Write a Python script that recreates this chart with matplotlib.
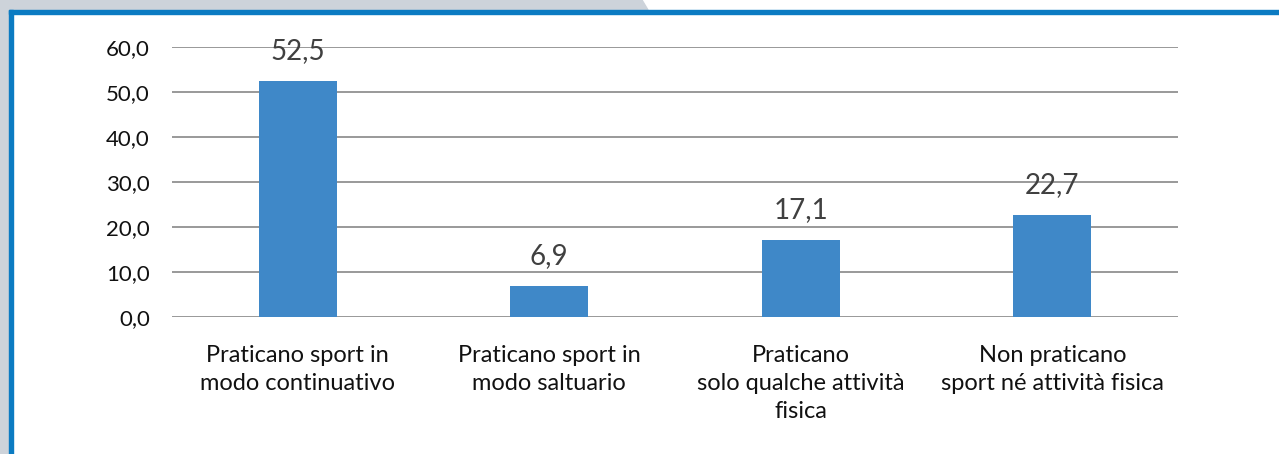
import matplotlib.pyplot as plt
from matplotlib.patches import Polygon, Rectangle

categories = ["Praticano sport in\nmodo continuativo",
              "Praticano sport in\nmodo saltuario",
              "Praticano\nsolo qualche attività\nfisica",
              "Non praticano\nsport né attività fisica"]
values = [52.5, 6.9, 17.1, 22.7]
yticks = [0, 10, 20, 30, 40, 50, 60]

plt.rcParams['font.family'] = ['Lato', 'DejaVu Sans']

fig = plt.figure(figsize=(12.79, 4.54), dpi=100)
W, H = 1279, 454

# frame decoration: grey tab + blue border
grey = '#cdd3da'
fig.patches.append(Rectangle((0, 0), 9 / W, 1, transform=fig.transFigure, color=grey, zorder=0))
fig.patches.append(Polygon([(0, 1), (642 / W, 1), (648 / W, 1 - 10 / H), (0, 1 - 10 / H)],
                           closed=True, transform=fig.transFigure, color=grey, zorder=0))
blue = '#0b7bc2'
fig.patches.append(Rectangle((9 / W, 1 - 14 / H), 1, 4 / H, transform=fig.transFigure, color=blue, zorder=1))
fig.patches.append(Rectangle((9 / W, 0), 4 / W, 1 - 10 / H, transform=fig.transFigure, color=blue, zorder=1))

ax = fig.add_axes([172 / W, 137 / H, 1006 / W, 270 / H])
x = range(len(categories))
bars = ax.bar(x, values, width=0.31, color='#3f88c8', zorder=3)
ax.set_xlim(-0.5, len(categories) - 0.5)
ax.set_ylim(0, 60)
ax.set_yticks(yticks)
ax.set_yticklabels([f"{v:.1f}".replace('.', ',') for v in yticks], fontsize=16, color='#111111')
ax.set_xticks(list(x))
ax.set_xticklabels(categories, fontsize=17, color='#111111', linespacing=1.4)
ax.tick_params(axis='y', length=0, pad=16)
ax.tick_params(axis='x', length=0, pad=20.5)
ax.grid(axis='y', color='#999999', linewidth=1.4, zorder=0)
for s in ax.spines.values():
    s.set_visible(False)
ax.patch.set_alpha(0)

for b, v in zip(bars, values):
    ax.annotate(f"{v:.1f}".replace('.', ','), (b.get_x() + b.get_width() / 2, v),
                xytext=(0, 12), textcoords='offset points', ha='center', va='bottom',
                fontsize=20, color='#404040', zorder=4)

fig.savefig('out.png', dpi=100)
